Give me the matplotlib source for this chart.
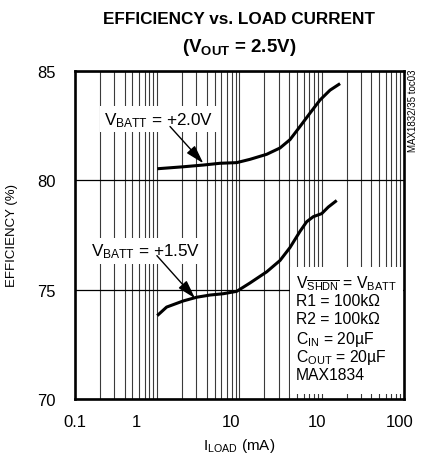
import numpy as np
import matplotlib
matplotlib.use("Agg")
import matplotlib.pyplot as plt
from matplotlib.patches import Rectangle

plt.rcParams['font.family'] = ['Liberation Sans Narrow', 'Liberation Sans', 'DejaVu Sans']
plt.rcParams['mathtext.fontset'] = 'custom'
plt.rcParams['mathtext.rm'] = 'Liberation Sans'
plt.rcParams['mathtext.bf'] = 'Liberation Sans:bold'
plt.rcParams['mathtext.it'] = 'Liberation Sans'

# ---- data ----
load_20 = [1.0, 2.07, 3.63, 5.79, 9.25, 13.4, 21.4, 31.1, 41.1, 54.4, 71.9, 95.2, 126, 167]
eff_20 = [80.52, 80.61, 80.69, 80.77, 80.80, 80.95, 81.18, 81.47, 81.85, 82.45, 83.06, 83.66, 84.11, 84.41]

load_15 = [1.0, 1.30, 2.07, 3.02, 4.38, 6.35, 9.25, 13.4, 21.4, 31.1, 41.1, 54.4, 65.6, 78.9, 99.8, 120, 152]
eff_15 = [73.81, 74.20, 74.48, 74.65, 74.75, 74.81, 74.92, 75.30, 75.81, 76.33, 76.92, 77.66, 78.10, 78.33, 78.47, 78.77, 79.07]

xtick_pos = [0.1, 0.56, 7.8, 88, 890]
xtick_labels = ['0.1', '1', '10', '10', '100']
yticks = [70, 75, 80, 85]

legend_lines = [r'V$_{\overline{\mathrm{SHDN}}}$ = V$_{\mathrm{BATT}}$',
                'R1 = 100kΩ', 'R2 = 100kΩ',
                r'C$_{\mathrm{IN}}$ = 20µF', r'C$_{\mathrm{OUT}}$ = 20µF', 'MAX1834']

W, H = 427, 460
fig = plt.figure(figsize=(W / 100, H / 100), dpi=100)
ax = fig.add_axes([75 / W, 60 / H, 329 / W, 328.3 / H])

ax.set_xscale('log')
ax.set_xlim(0.1, 1000)
ax.set_ylim(70, 85)

# grid positions (log decades)
minor = []
for dec in [0.1, 1, 10, 100]:
    for m in range(1, 10):
        minor.append(m * dec)
ax.set_xticks(xtick_pos)
ax.set_xticklabels(xtick_labels)
ax.set_xticks(minor, minor=True)
ax.xaxis.set_minor_formatter(matplotlib.ticker.NullFormatter())
ax.set_yticks(yticks)
ax.grid(True, which='minor', axis='x', color='#3a3a3a', lw=0.8)
ax.grid(True, which='major', axis='y', color='black', lw=0.9)
ax.tick_params(which='both', length=0, labelsize=12)
ax.tick_params(axis='x', pad=11)
ax.tick_params(axis='y', pad=14)
for s in ax.spines.values():
    s.set_linewidth(1.9)

ax.plot(load_20, eff_20, color='black', lw=2.2, solid_capstyle='butt', zorder=4)
ax.plot(load_15, eff_15, color='black', lw=2.2, solid_capstyle='butt', zorder=4)

# labels with arrows
ap = dict(arrowstyle='-|>,head_length=0.75,head_width=0.22', color='black', lw=1.0,
          mutation_scale=15, shrinkA=0, shrinkB=0)
ax.annotate('', xy=(3.63, 80.77), xytext=(1.43, 82.45), arrowprops=ap, zorder=5)
ax.annotate('', xy=(2.88, 74.60), xytext=(0.99, 76.55), arrowprops=ap, zorder=5)

bb = dict(facecolor='white', edgecolor='none', pad=2.5)
ax.text(0.254, 0.838, r'V$_{\mathrm{BATT}}$ = +2.0V', transform=ax.transAxes,
        ha='center', va='baseline', fontsize=12.3, bbox=bb, zorder=3)
ax.text(0.216, 0.4366, r'V$_{\mathrm{BATT}}$ = +1.5V', transform=ax.transAxes,
        ha='center', va='baseline', fontsize=12.3, bbox=bb, zorder=3)

# conditions box
ax.add_patch(Rectangle((0.654, 0.015), 0.343, 0.387, transform=ax.transAxes,
                       facecolor='white', edgecolor='none', zorder=3))
ys = [0.341, 0.285, 0.230, 0.172, 0.117, 0.062]
for t, y in zip(legend_lines, ys):
    ax.text(0.672, y, t, transform=ax.transAxes, ha='left', va='baseline',
            fontsize=11.3, zorder=4)

ax.set_xlabel(r'I$_{\mathrm{LOAD}}$ (mA)', fontsize=11, labelpad=5)
ax.set_ylabel('EFFICIENCY (%)', fontsize=9.5, labelpad=14)

fig.text(239 / W, 1 - 19.5 / H, 'EFFICIENCY vs. LOAD CURRENT', ha='center', va='center',
         fontsize=12.3, fontweight='bold')
fig.text(239 / W, 1 - 47 / H, r'(V$_{\mathbf{OUT}}$ = 2.5V)', ha='center', va='center',
         fontsize=13.5, fontweight='bold')
fig.text(413 / W, 1 - 70 / H, 'MAX1832/35 toc03', rotation=90, ha='center', va='top',
         fontsize=7)

fig.savefig('out.png', dpi=100)
